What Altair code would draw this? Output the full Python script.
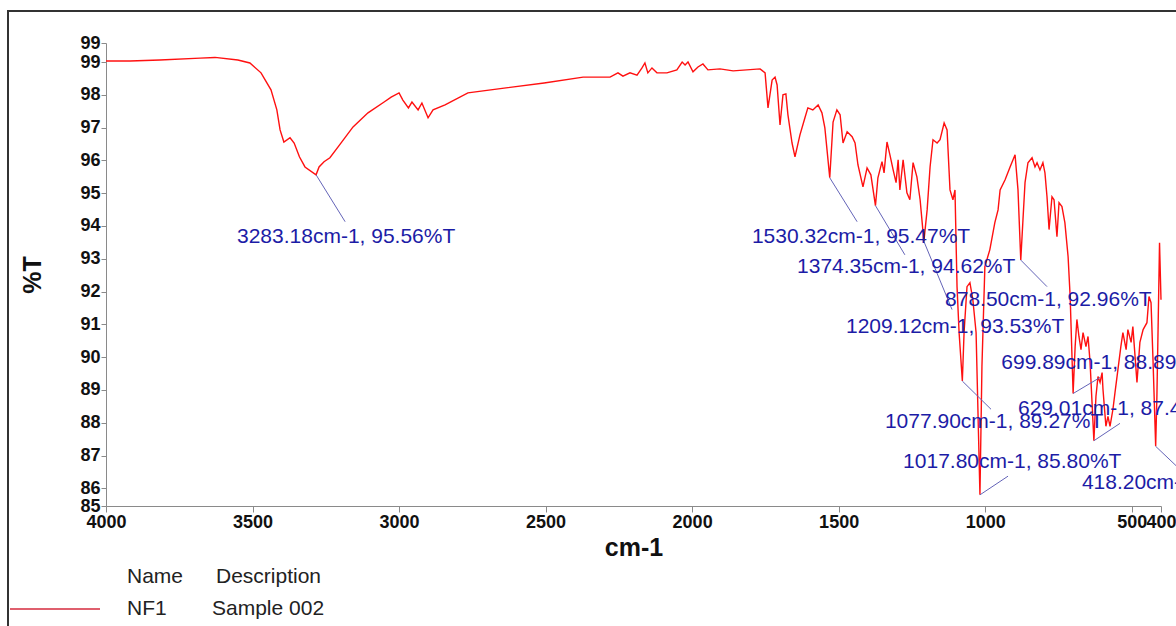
import altair as alt
import pandas as pd

# FT-IR spectrum of sample NF1 (wavenumber in cm-1, transmittance in %T)
wavenumber = [
    4000, 3918, 3816, 3679, 3628, 3550, 3509, 3471, 3437, 3417, 3406, 3393,
    3372, 3358, 3340, 3321, 3283.18, 3273, 3256, 3236, 3208, 3157, 3106, 3051,
    3027, 3000, 2987, 2968, 2956, 2935, 2922, 2901, 2884, 2843, 2765, 2635,
    2505, 2372, 2280, 2253, 2236, 2212, 2188, 2171, 2161, 2151, 2137, 2120,
    2086, 2052, 2034, 2024, 2014, 1997, 1980, 1963, 1946, 1905, 1860, 1768,
    1751, 1741, 1727, 1717, 1710, 1700, 1690, 1680, 1673, 1659, 1649, 1632,
    1615, 1605, 1588, 1570, 1557, 1547, 1530.32, 1519, 1506, 1495, 1485, 1471,
    1454, 1444, 1434, 1417, 1403, 1390, 1374.35, 1366, 1352, 1345, 1335, 1325,
    1314, 1304, 1297, 1291, 1280, 1267, 1257, 1246, 1233, 1222, 1209.12, 1198,
    1188, 1178, 1164, 1154, 1140, 1130, 1120, 1110, 1103, 1096, 1089, 1077.90,
    1072, 1062, 1052, 1042, 1031, 1017.80, 1011, 1001, 984, 967, 956, 949,
    932, 915, 898, 888, 878.50, 871, 864, 854, 840, 830, 823, 813,
    803, 796, 789, 782, 772, 765, 755, 748, 738, 728, 717, 710,
    699.89, 693, 687, 680, 673, 666, 656, 649, 642, 629.01, 622, 615,
    608, 601, 598, 588, 581, 574, 564, 557, 547, 537, 530, 519,
    513, 502, 496, 482, 472, 461, 448, 441, 434, 427, 418.20, 414,
    410, 405, 400,
]
transmittance = [
    99.03, 99.03, 99.06, 99.12, 99.14, 99.06, 98.97, 98.67, 98.15, 97.54, 96.93, 96.56,
    96.69, 96.53, 96.11, 95.80, 95.56, 95.80, 95.96, 96.08, 96.41, 97.02, 97.45, 97.78,
    97.93, 98.06, 97.84, 97.60, 97.78, 97.54, 97.75, 97.30, 97.54, 97.69, 98.06, 98.21,
    98.36, 98.54, 98.54, 98.67, 98.57, 98.67, 98.60, 98.82, 98.97, 98.67, 98.82, 98.67,
    98.67, 98.76, 99.00, 98.91, 99.00, 98.70, 98.85, 98.94, 98.76, 98.79, 98.73, 98.79,
    98.67, 97.60, 98.45, 98.54, 98.30, 97.08, 98.00, 98.03, 97.39, 96.53, 96.11, 96.78,
    97.30, 97.60, 97.54, 97.69, 97.45, 96.99, 95.47, 97.17, 97.54, 97.39, 96.53, 96.87,
    96.72, 96.53, 95.86, 95.19, 95.77, 95.56, 94.62, 95.47, 95.96, 95.62, 96.56, 96.17,
    95.71, 95.32, 96.02, 95.10, 96.02, 95.01, 94.80, 95.93, 95.50, 94.80, 93.53, 94.49,
    95.80, 96.63, 96.53, 96.63, 97.14, 96.93, 95.10, 94.80, 95.10, 92.15, 90.75, 89.27,
    90.75, 92.15, 92.27, 91.75, 90.75, 85.80, 89.72, 92.76, 93.28, 94.10, 94.49, 95.10,
    95.41, 95.80, 96.17, 95.10, 92.96, 94.19, 95.32, 95.93, 96.08, 95.80, 95.93, 95.71,
    95.93, 95.62, 94.89, 93.89, 94.89, 94.80, 93.67, 94.71, 94.59, 94.10, 93.06, 91.85,
    88.89, 90.32, 91.15, 90.63, 90.23, 90.75, 90.32, 90.63, 89.84, 87.45, 88.80, 89.41,
    89.23, 89.53, 89.02, 87.89, 88.19, 87.89, 88.41, 88.92, 89.62, 90.32, 90.75, 90.23,
    90.84, 90.45, 90.93, 89.23, 90.45, 90.84, 91.05, 91.85, 91.66, 89.84, 87.28, 88.80,
    90.84, 93.49, 91.75,
]

# Picked peaks, where each label sits, and where its leader line ends
peak_wn = [3283.18, 1530.32, 1374.35, 878.50, 1209.12, 1077.90, 1017.80, 699.89, 629.01, 418.20]
peak_t = [95.56, 95.47, 94.62, 92.96, 93.53, 89.27, 85.80, 88.89, 87.45, 87.28]
label_wn = [3553, 1796, 1642, 1137, 1475, 1342, 1280, 945, 888, 670]
label_t = [93.67, 93.67, 92.76, 91.75, 90.93, 88.02, 86.79, 89.81, 88.41, 86.15]
leader_wn = [3184, 1437, 1274, 789, 1113, 980, 922, 608, 540, 318]
leader_t = [94.13, 94.13, 93.12, 92.15, 91.45, 88.41, 86.37, 89.38, 87.98, 86.43]

x_ticks = [4000, 3500, 3000, 2500, 2000, 1500, 1000, 500, 400]
y_min, y_max = 85.46, 99.58
y_ticks = [y_min] + list(range(86, 100)) + [y_max]

# Legend block: header row and one entry row
legend_words = ["Name", "Description", "NF1", "Sample 002"]

FONT = "Liberation Sans"

spectrum = pd.DataFrame({"wn": wavenumber, "t": transmittance, "i": range(len(wavenumber))})
peaks = pd.DataFrame({
    "wn": peak_wn, "t": peak_t,
    "lx": label_wn, "ly": label_t,
    "ex": leader_wn, "ey": leader_t,
    "label": [f"{w:.2f}cm-1, {t:.2f}%T" for w, t in zip(peak_wn, peak_t)],
})

x_scale = alt.Scale(domain=[400, 4000], reverse=True, nice=False, zero=False)
y_scale = alt.Scale(domain=[y_min, y_max], nice=False, zero=False)

x_axis = alt.Axis(
    values=x_ticks, format="d", title="cm-1", grid=False,
    labelFlush=False, labelOverlap=False, labelFont=FONT, labelFontSize=18,
    labelFontWeight="bold", labelColor="#111111", labelPadding=1, tickSize=6,
    tickColor="#8a8a8a", domainColor="#8a8a8a", titleFont=FONT, titleFontSize=25,
    titleFontWeight="bold", titleColor="#111111", titlePadding=4,
)
y_axis = alt.Axis(
    values=y_ticks, labelExpr="floor(datum.value)", title="%T", grid=False,
    labelOverlap=False, labelFont=FONT, labelFontSize=18, labelFontWeight="bold",
    labelColor="#111111", labelPadding=1, tickSize=5, tickColor="#8a8a8a",
    domainColor="#8a8a8a", titleFont=FONT, titleFontSize=25, titleFontWeight="bold",
    titleColor="#111111", titlePadding=34,
)

trace = alt.Chart(spectrum).mark_line(color="#ff1010", strokeWidth=1.4).encode(
    x=alt.X("wn:Q", scale=x_scale, axis=x_axis),
    y=alt.Y("t:Q", scale=y_scale, axis=y_axis),
    order="i:Q",
)

leaders = alt.Chart(peaks).mark_rule(color="#6464b8", strokeWidth=1).encode(
    x=alt.X("wn:Q", scale=x_scale, axis=x_axis),
    y=alt.Y("t:Q", scale=y_scale, axis=y_axis),
    x2="ex:Q", y2="ey:Q",
)

labels = alt.Chart(peaks).mark_text(
    align="left", baseline="middle", font=FONT, fontSize=21, color="#1c1ca6"
).encode(
    x=alt.X("lx:Q", scale=x_scale, axis=x_axis),
    y=alt.Y("ly:Q", scale=y_scale, axis=y_axis),
    text="label:N",
)

one = pd.DataFrame({"k": [0]})

# Outer border around the whole figure
frame = alt.Chart(one).mark_rect(fill="transparent", stroke="#333333", strokeWidth=2).encode(
    x=alt.value(-98), x2=alt.value(1300), y=alt.value(-32), y2=alt.value(800),
)

legend_line = alt.Chart(one).mark_rule(color="#d42a3c", strokeWidth=1.5).encode(
    x=alt.value(-96), x2=alt.value(-6), y=alt.value(566),
)

legend_rows = pd.DataFrame({
    "txt": legend_words,
    "col": [21, 110, 21, 106],
    "row": [534, 534, 566, 566],
})
legend_text = alt.Chart(legend_rows).mark_text(
    align="left", baseline="middle", font=FONT, fontSize=21, color="#222222"
).encode(
    x=alt.X("col:Q", scale=None),
    y=alt.Y("row:Q", scale=None),
    text="txt:N",
)

chart = alt.layer(frame, trace, leaders, labels, legend_line, legend_text).properties(
    width=1055,
    height=463,
    autosize=alt.AutoSizeParams(type="none"),
    padding={"left": 106, "top": 43, "right": 15, "bottom": 120},
    background="white",
).configure_view(stroke="transparent")

chart.save("out.html", embed_options={"renderer": "svg", "actions": False})
